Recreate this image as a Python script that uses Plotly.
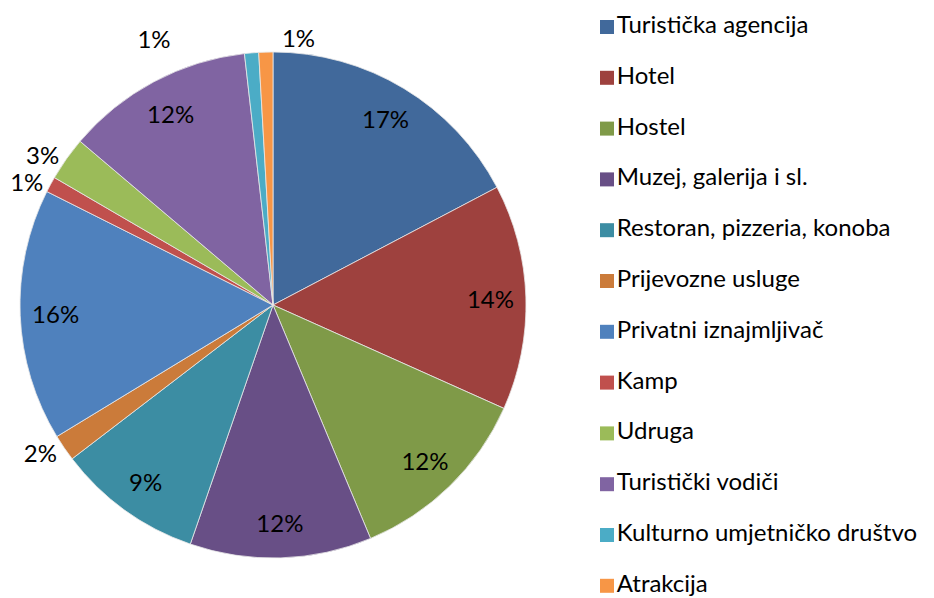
import plotly.graph_objects as go

categories = ["Turistička agencija", "Hotel", "Hostel", "Muzej, galerija i sl.",
              "Restoran, pizzeria, konoba", "Prijevozne usluge", "Privatni iznajmljivač",
              "Kamp", "Udruga", "Turistički vodiči", "Kulturno umjetničko društvo", "Atrakcija"]
values = [17.3, 14.4, 12.0, 11.6, 9.3, 1.7, 16.1, 1.0, 2.8, 12.0, 0.9, 0.9]
colors = ["#41699B", "#9E413E", "#7F9A48", "#684F86", "#3C8DA3", "#CB7B3A",
          "#4F81BD", "#C0504D", "#9BBB59", "#8064A2", "#4BACC6", "#F79646"]

FONT = "Lato"
# page body has an 8px margin, so the figure is drawn 8px in from the window corner
W, H = 926, 590
dom = dict(x=[12 / W, 518 / W], y=[1 - 550 / H, 1 - 44 / H])
n = len(categories)
PCT = "%{percent:.0%}"
clear = ["rgba(0,0,0,0)"] * n

fig = go.Figure()
# full pie (no text)
fig.add_trace(go.Pie(
    labels=categories, values=values, sort=False, direction="clockwise", rotation=0,
    marker=dict(colors=colors, line=dict(color="#E8E8E8", width=0.8)), textinfo="none",
    showlegend=False, hoverinfo="label+percent", domain=dom, automargin=False,
))


def label_ring(positions, templates=None, rotation=0):
    """Transparent ring over the pie that only carries percentage labels."""
    fig.add_trace(go.Pie(
        labels=categories, values=values, sort=False, direction="clockwise",
        rotation=rotation, hole=0.72,
        marker=dict(colors=clear, line=dict(width=0)),
        texttemplate=templates or PCT, textposition=positions,
        insidetextorientation="horizontal",
        textfont=dict(family=FONT, size=24, color="black"),
        showlegend=False, hoverinfo="skip", domain=dom, automargin=False,
    ))


# main labels
label_ring(["inside", "inside", "inside", "inside", "inside", "outside",
            "inside", "outside", "none", "inside", "none", "none"])
# Udruga and Kulturno umjetničko društvo (pushed left, as in the original)
kud_tpl = [PCT] * n
kud_tpl[10] = PCT + "\u00a0" * 12
label_ring(["none"] * 8 + ["outside", "none", "outside", "none"], kud_tpl)
# Atrakcija label placed just right of 12 o'clock
label_ring(["none"] * 11 + ["outside"], rotation=2)

# legend drawn as a marker column with labels
LEG_X = 599            # px in figure
TOP, STEP = 19, 50.8   # px in figure
fig.add_trace(go.Scatter(
    x=[LEG_X] * n, y=list(range(n)), mode="markers+text",
    text=categories, textposition="middle right",
    textfont=dict(family=FONT, size=24, color="black"),
    marker=dict(symbol="square", size=14, color=colors),
    cliponaxis=False, showlegend=False, hoverinfo="skip",
))

fig.update_layout(
    width=W, height=H,
    margin=dict(l=0, r=0, t=0, b=0, autoexpand=False),
    paper_bgcolor="white", plot_bgcolor="rgba(0,0,0,0)",
    xaxis=dict(visible=False, range=[0, W], domain=[0, 1], fixedrange=True),
    yaxis=dict(visible=False, range=[(H - TOP) / STEP, -TOP / STEP], domain=[0, 1], fixedrange=True),
    showlegend=False,
    font=dict(family=FONT),
)

fig.write_html("out.html")
